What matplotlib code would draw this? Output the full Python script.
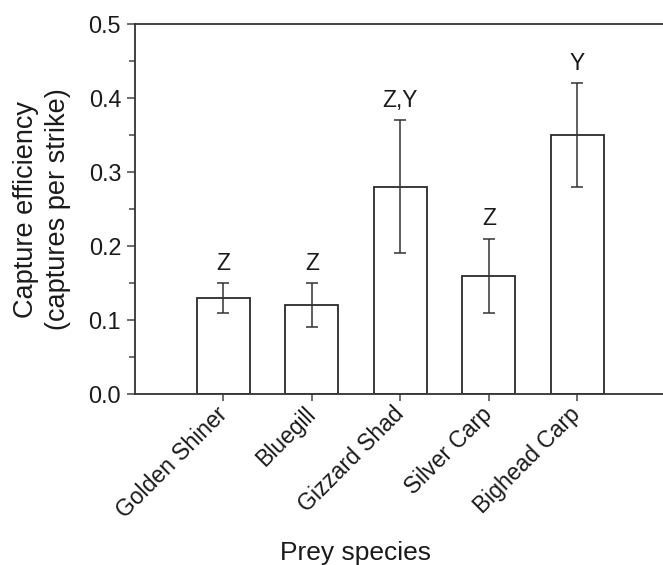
import matplotlib
matplotlib.use('Agg')
import matplotlib.pyplot as plt
from matplotlib.ticker import MultipleLocator, FormatStrFormatter

plt.rcParams['font.family'] = ['Liberation Sans', 'DejaVu Sans']

species = ['Golden Shiner', 'Bluegill', 'Gizzard Shad', 'Silver Carp', 'Bighead Carp']
efficiency = [0.13, 0.12, 0.28, 0.16, 0.35]
err = [0.02, 0.03, 0.09, 0.05, 0.07]
groups = ['Z', 'Z', 'Z,Y', 'Z', 'Y']

fig = plt.figure(figsize=(6.63, 5.65), dpi=100)
ax = fig.add_axes([135 / 663, 1 - 394 / 565, 1 - 135 / 663, (394 - 24) / 565])

x = range(len(species))
ax.bar(x, efficiency, width=0.6, color='white', edgecolor='#2a2a2a', linewidth=1.3,
       yerr=err, error_kw=dict(ecolor='#333333', elinewidth=1.1, capsize=4.3, capthick=1.1))

for i in x:
    ax.text(i, efficiency[i] + err[i] + 0.018, groups[i], ha='center', va='baseline',
            fontsize=16.5, color='#1a1a1a')

ax.set_xlim(-1, 4.97)
ax.set_ylim(0, 0.5)
ax.set_xticks(list(x))
ax.set_xticklabels(species, rotation=45, ha='right', va='center', rotation_mode='anchor',
                   fontsize=16.5, color='#1a1a1a')
ax.yaxis.set_major_locator(MultipleLocator(0.1))
ax.yaxis.set_minor_locator(MultipleLocator(0.05))
ax.yaxis.set_major_formatter(FormatStrFormatter('%.1f'))
ax.tick_params(axis='y', which='major', labelsize=16.8, length=6, width=1.1,
               color='#444444', pad=4, labelcolor='#1a1a1a')
ax.tick_params(axis='y', which='minor', length=4, width=1.1, color='#444444')
ax.tick_params(axis='x', length=5, width=1.1, color='#444444', pad=7)

for s in ['left', 'bottom', 'top']:
    ax.spines[s].set_color('#333333')
    ax.spines[s].set_linewidth(1.3)
ax.spines['right'].set_visible(False)

ax.set_ylabel('Capture efficiency\n(captures per strike)', fontsize=19.5, color='#1a1a1a',
              linespacing=1.3)
ax.yaxis.set_label_coords(-0.121, 0.5)
ax.set_xlabel('Prey species', fontsize=19, color='#1a1a1a')
ax.xaxis.set_label_coords(0.4167, -0.398)

fig.savefig('out.png', dpi=100)
